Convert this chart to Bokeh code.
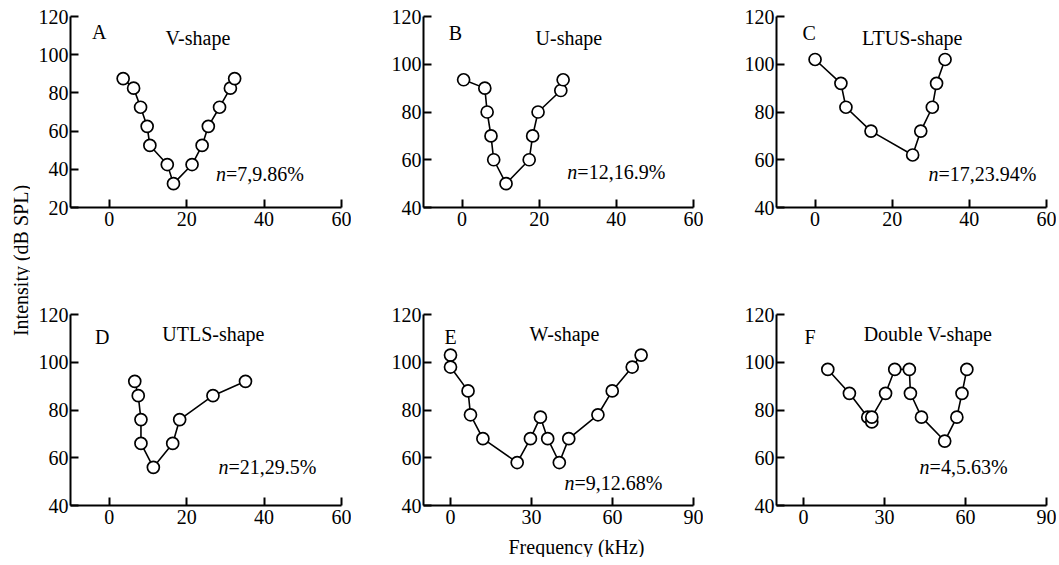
import math
from bokeh.plotting import figure
from bokeh.models import Range1d, FixedTicker, Label
from bokeh.layouts import row, column
from bokeh.embed import file_html
from bokeh.resources import INLINE

FONT = "Liberation Serif"

# ---- data ----
a_freq = [3.6, 6.3, 8.1, 9.8, 10.5, 15.0, 16.6, 21.4, 24.0, 25.6, 28.5, 31.3, 32.4]
a_level = [87.5, 82.5, 72.5, 62.5, 52.5, 42.5, 32.5, 42.5, 52.5, 62.5, 72.5, 82.5, 87.5]
b_freq = [0.4, 5.9, 6.5, 7.5, 8.2, 11.4, 17.4, 18.3, 19.7, 25.6, 26.2]
b_level = [93.5, 90, 80, 70, 60, 50, 60, 70, 80, 89, 93.5]
c_freq = [0.0, 6.7, 8.0, 14.5, 25.3, 27.4, 30.4, 31.5, 33.7]
c_level = [102, 92, 82, 72, 62, 72, 82, 92, 102]
d_freq = [6.6, 7.5, 8.2, 8.2, 11.4, 16.4, 18.2, 26.8, 35.2]
d_level = [92, 86, 76, 66, 56, 66, 76, 86, 92]
e_freq = [0.0, 0.0, 6.5, 7.4, 12.0, 24.7, 29.6, 33.3, 36.0, 40.3, 43.8, 54.6, 59.9, 67.3, 70.6]
e_level = [103, 98, 88, 78, 68, 58, 68, 77, 68, 58, 68, 78, 88, 98, 103]
f_freq = [9.0, 17.0, 23.8, 25.3, 25.3, 30.4, 33.8, 39.2, 39.6, 43.7, 52.3, 56.8, 58.7, 60.5]
f_level = [97, 87, 77, 75, 77, 87, 97, 97, 87, 77, 67, 77, 87, 97]

panel_letters = ["A", "B", "C", "D", "E", "F"]
shape_names = ["V-shape", "U-shape", "LTUS-shape", "UTLS-shape", "W-shape", "Double V-shape"]
n_texts = ["=7,9.86%", "=12,16.9%", "=17,23.94%", "=21,29.5%", "=9,12.68%", "=4,5.63%"]
x_ticks_small = [0, 20, 40, 60]
x_ticks_large = [0, 30, 60, 90]
y_ticks_a = [20, 40, 60, 80, 100, 120]
y_ticks_rest = [40, 60, 80, 100, 120]
x_title = "Frequency (kHz)"
y_title = "Intensity (dB SPL)"

FS = "20px"


def panel(freq, level, idx, xr, yr, xt, yt, width, height, bl, br, bt, bb,
          letter_pos, shape_pos, n_pos):
    p = figure(width=width, height=height, x_range=Range1d(*xr), y_range=Range1d(*yr),
               output_backend="svg", toolbar_location=None,
               min_border_left=bl, min_border_right=br, min_border_top=bt, min_border_bottom=bb,
               outline_line_color=None, background_fill_color="white",
               border_fill_color="white")
    p.xgrid.visible = False
    p.ygrid.visible = False
    for ax, ticks in ((p.xaxis[0], xt), (p.yaxis[0], yt)):
        ax.ticker = FixedTicker(ticks=ticks)
        ax.minor_tick_line_color = None
        ax.major_tick_in = 8
        ax.major_tick_out = 0
        ax.major_tick_line_width = 2
        ax.axis_line_width = 2
        ax.axis_line_color = "black"
        ax.major_tick_line_color = "black"
        ax.major_label_text_font = FONT
        ax.major_label_text_font_size = FS
        ax.major_label_text_color = "black"
    p.xaxis[0].major_label_standoff = 4
    p.yaxis[0].major_label_standoff = 2
    p.line(freq, level, line_color="black", line_width=1.6)
    p.scatter(freq, level, marker="circle", size=12, fill_color="white",
              line_color="black", line_width=1.7)
    p.add_layout(Label(x=letter_pos[0], y=letter_pos[1], text=panel_letters[idx],
                       text_font=FONT, text_font_size=FS, text_align="center",
                       text_baseline="alphabetic", text_color="black"))
    p.add_layout(Label(x=shape_pos[0], y=shape_pos[1], text=shape_names[idx],
                       text_font=FONT, text_font_size=FS, text_align="center",
                       text_baseline="alphabetic", text_color="black"))
    p.add_layout(Label(x=n_pos[0], y=n_pos[1], text="n", text_font=FONT,
                       text_font_style="italic", text_font_size=FS, text_align="left",
                       text_baseline="alphabetic", text_color="black"))
    p.add_layout(Label(x=n_pos[0], y=n_pos[1], x_offset=10, text=n_texts[idx],
                       text_font=FONT, text_font_size=FS, text_align="left",
                       text_baseline="alphabetic", text_color="black"))
    return p


FH = 191
T1, B1 = 16, 50
T2, B2 = 57, 30
H1 = T1 + FH + B1
H2 = T2 + FH + B2
HB = 22
YW = 30

pa = panel(a_freq, a_level, 0, (-10, 60), (20, 120), x_ticks_small, y_ticks_a,
           321, H1, 40, 10, T1, B1, (-2.6, 111.8), (22.9, 108.8), (27.6, 37.6))
pb = panel(b_freq, b_level, 1, (-10, 60), (40, 120), x_ticks_small, y_ticks_rest,
           352, H1, 72, 10, T1, B1, (-1.7, 113.2), (27.7, 111.1), (27.3, 54.9))
pc = panel(c_freq, c_level, 2, (-10, 60), (40, 120), x_ticks_small, y_ticks_rest,
           353, H1, 73, 10, T1, B1, (-1.5, 113.2), (25.2, 111.1), (29.4, 54.2))
pd = panel(d_freq, d_level, 3, (-10, 60), (40, 120), x_ticks_small, y_ticks_rest,
           321, H2, 40, 10, T2, B2, (-1.8, 110.6), (26.9, 111.8), (28.2, 56.2))
pe = panel(e_freq, e_level, 4, (-10, 90), (40, 120), x_ticks_large, y_ticks_rest,
           352, H2, 72, 10, T2, B2, (0.0, 110.6), (42.2, 111.8), (42.2, 49.5))
pf = panel(f_freq, f_level, 5, (-10, 90), (40, 120), x_ticks_large, y_ticks_rest,
           353, H2, 73, 10, T2, B2, (2.4, 110.6), (46.1, 111.8), (43.0, 56.2))


def blank(w, h):
    q = figure(width=w, height=h, x_range=Range1d(0, 1), y_range=Range1d(0, 1),
               output_backend="svg", toolbar_location=None, min_border=0,
               outline_line_color=None)
    q.axis.visible = False
    q.xgrid.visible = False
    q.ygrid.visible = False
    return q


ylab = blank(YW, H1 + H2 + HB)
ylab.add_layout(Label(x=20 / YW, y=(H1 + H2 + HB - 260) / (H1 + H2 + HB), text=y_title,
                      angle=math.pi / 2, text_font=FONT, text_font_size=FS,
                      text_align="center", text_baseline="middle", text_color="black"))

xlab = blank(321 + 352 + 353, HB)
xlab.add_layout(Label(x=(576 - YW) / (321 + 352 + 353), y=0.5, text=x_title,
                      text_font=FONT, text_font_size=FS, text_align="center",
                      text_baseline="middle", text_color="black"))

layout = row(ylab, column(row(pa, pb, pc), row(pd, pe, pf), xlab))

open("out.html", "w").write(file_html(layout, INLINE))
